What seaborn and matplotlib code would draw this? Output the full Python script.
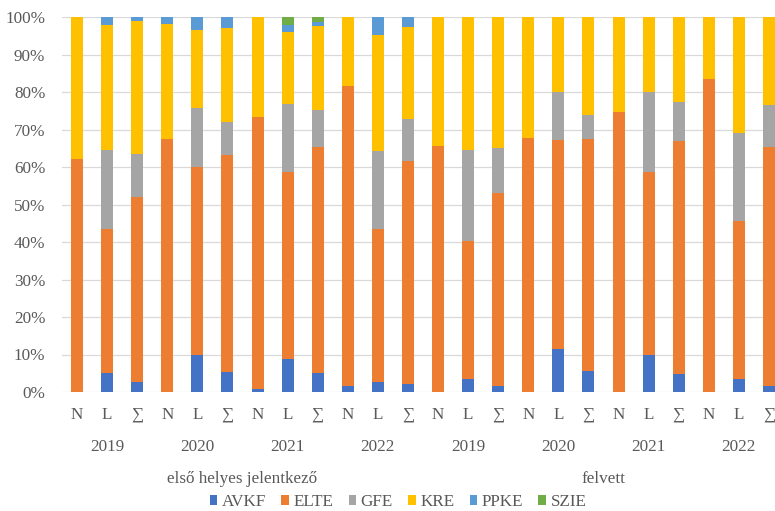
"""
Intézményi megoszlás: első helyes jelentkezők és felvettek (N / L / ∑), 2019-2022.
100%-os halmozott oszlopdiagram seaborn-nal.
"""

import numpy as np
import pandas as pd
import matplotlib
matplotlib.use('Agg')
import matplotlib.pyplot as plt
from matplotlib.patches import Patch
import seaborn as sns

# ---------- adatok (százalék, oszloponként) ----------
groups = ['első helyes jelentkező', 'felvett']
years = ['2019', '2020', '2021', '2022']
types = ['N', 'L', '∑']

institutions = ['AVKF', 'ELTE', 'GFE', 'KRE', 'PPKE', 'SZIE']
colors = ['#4472C4', '#ED7D31', '#A5A5A5', '#FFC000', '#5B9BD5', '#70AD47']

avkf = [0.0, 5.2, 2.8, 0.0, 9.8, 5.4, 0.8, 8.8, 5.2, 1.7, 2.8, 2.2,
        0.0, 3.5, 1.6, 0.0, 11.6, 5.6, 0.0, 9.9, 4.7, 0.0, 3.4, 1.5]
elte = [62.1, 38.4, 49.3, 67.4, 50.1, 57.7, 72.5, 50.0, 60.1, 80.0, 40.8, 59.5,
        65.7, 36.9, 51.6, 67.7, 55.5, 61.8, 74.7, 48.9, 62.2, 83.6, 42.1, 63.9]
gfe = [0.0, 20.9, 11.3, 0.0, 15.8, 8.9, 0.0, 17.9, 9.9, 0.0, 20.8, 11.0,
       0.0, 24.0, 11.9, 0.0, 12.9, 6.4, 0.0, 21.2, 10.4, 0.0, 23.5, 11.2]
kre = [37.9, 33.5, 35.5, 30.7, 20.9, 25.2, 26.7, 19.3, 22.5, 18.3, 30.7, 24.7,
       34.3, 35.6, 34.9, 32.3, 20.0, 26.2, 25.3, 20.0, 22.7, 16.4, 31.0, 23.4]
ppke = [0.0, 2.0, 1.1, 1.9, 3.4, 2.8, 0.0, 1.9, 1.1, 0.0, 4.9, 2.6,
        0.0, 0.0, 0.0, 0.0, 0.0, 0.0, 0.0, 0.0, 0.0, 0.0, 0.0, 0.0]
szie = [0.0, 0.0, 0.0, 0.0, 0.0, 0.0, 0.0, 2.1, 1.2, 0.0, 0.0, 0.0,
        0.0, 0.0, 0.0, 0.0, 0.0, 0.0, 0.0, 0.0, 0.0, 0.0, 0.0, 0.0]

# ---------- táblázat ----------
n_bars = len(groups) * len(years) * len(types)
df = pd.DataFrame({'AVKF': avkf, 'ELTE': elte, 'GFE': gfe,
                   'KRE': kre, 'PPKE': ppke, 'SZIE': szie})
df['oszlop'] = np.arange(n_bars)
# halmozott (kumulatív) értékek
cum = df[institutions].cumsum(axis=1)

# ---------- ábra ----------
plt.rcParams['font.family'] = ['Liberation Serif', 'DejaVu Serif']
text_color = '#595959'
fs = 12.3

W, H = 775, 511
fig = plt.figure(figsize=(W / 100, H / 100), dpi=100)
# a rajzterület jobbra kilóg a képből (az eredeti is le van vágva)
ax_l, ax_r, ax_t, ax_b = 62, 784, 17, 392
ax = fig.add_axes([ax_l / W, 1 - ax_b / H, (ax_r - ax_l) / W, (ax_b - ax_t) / H])

# felülről lefelé rajzolva -> halmozott oszlopok
for inst, col in reversed(list(zip(institutions, colors))):
    sns.barplot(x=df['oszlop'], y=cum[inst], color=col, width=0.4,
                saturation=1, ax=ax, zorder=3)

ax.set_xlim(-0.5, n_bars - 0.5)
ax.set_ylim(0, 100)
ax.set_yticks(np.arange(0, 101, 10))
ax.set_yticklabels([f'{v}%' for v in range(0, 101, 10)], fontsize=fs, color=text_color)
ax.yaxis.grid(True, color='#D9D9D9', linewidth=0.9, zorder=0)
ax.set_axisbelow(True)
ax.tick_params(axis='y', length=0, pad=12)
ax.tick_params(axis='x', length=0, labelbottom=False)
ax.set_xlabel('')
ax.set_ylabel('')
for sp in ax.spines.values():
    sp.set_visible(False)

# többszintű kategóriafeliratok
tr = ax.get_xaxis_transform()
h_px = ax_b - ax_t
i = 0
for g_idx, g in enumerate(groups):
    for y_idx, yr in enumerate(years):
        for t in types:
            ax.text(i, -23 / h_px, t, transform=tr, ha='center', va='center',
                    fontsize=fs, color=text_color)
            i += 1
        mid = g_idx * 12 + y_idx * 3 + 1
        ax.text(mid, -55 / h_px, yr, transform=tr, ha='center', va='center',
                fontsize=fs, color=text_color)
    gmid = g_idx * 12 + 5.5
    ax.text(gmid, -87 / h_px, g, transform=tr, ha='center', va='center',
            fontsize=fs, color=text_color)

# jelmagyarázat
handles = [Patch(facecolor=c, edgecolor='none', label=n)
           for n, c in zip(institutions, colors)]
leg = fig.legend(handles=handles, loc='center', ncol=6, frameon=False,
                 bbox_to_anchor=(398 / W, 1 - 502 / H), fontsize=fs,
                 handlelength=0.45, handleheight=0.45, handletextpad=0.25,
                 columnspacing=0.9)
for txt in leg.get_texts():
    txt.set_color(text_color)

fig.savefig('out.png', dpi=100)
plt.close(fig)
